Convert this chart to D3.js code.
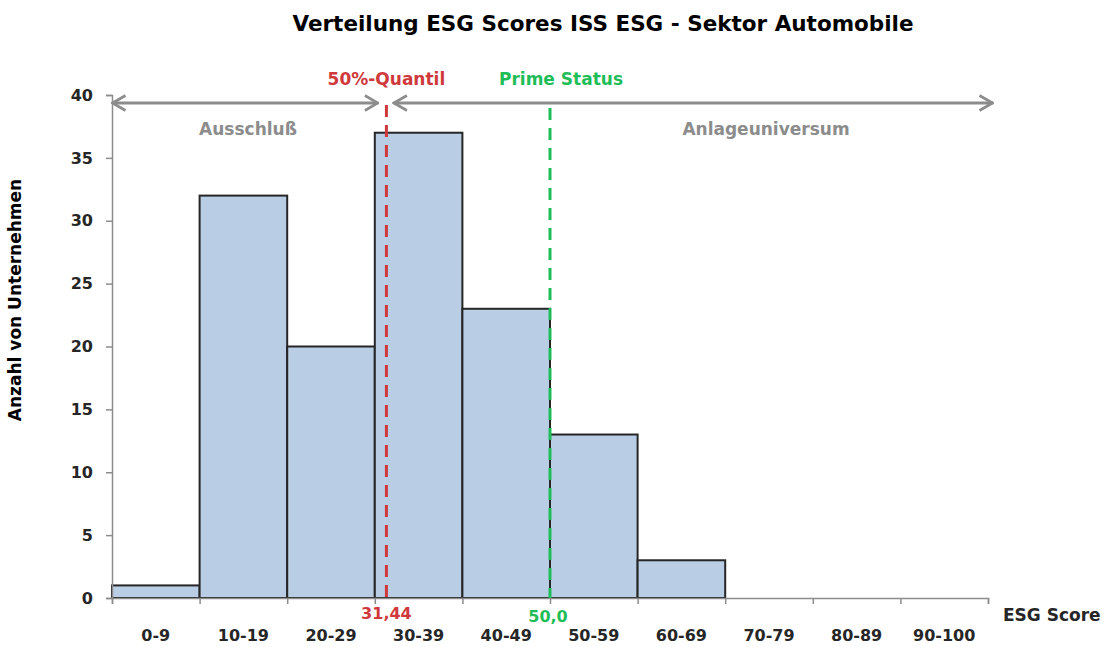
<!DOCTYPE html>
<html>
<head>
<meta charset="utf-8">
<script src="https://cdn.jsdelivr.net/npm/d3@7"></script>
<style>
  body { margin: 0; background: #fff; }
  text { font-family: "DejaVu Sans", Verdana, sans-serif; font-weight: bold; }
</style>
</head>
<body>
<div id="chart"></div>
<script>
const bins = ["0-9", "10-19", "20-29", "30-39", "40-49", "50-59", "60-69", "70-79", "80-89", "90-100"];
const counts = [1, 32, 20, 37, 23, 13, 3, 0, 0, 0];
const yTicks = [0, 5, 10, 15, 20, 25, 30, 35, 40];
const quantil = 31.44;
const prime = 50.0;

const width = 1116, height = 647;
const margin = {left: 112, right: 128, top: 95, bottom: 49};
const grey = "#8c8c8c", red = "#d0393b", green = "#1fbd58";

const svg = d3.select("#chart").append("svg")
  .attr("width", width)
  .attr("height", height);

const x = d3.scaleLinear().domain([0, 100]).range([margin.left, width - margin.right]);
const xb = d3.scaleBand().domain(bins).range([margin.left, width - margin.right]).padding(0);
const y = d3.scaleLinear().domain([0, 40]).range([height - margin.bottom, margin.top]);

// title
svg.append("text")
  .attr("x", 603).attr("y", 31)
  .attr("text-anchor", "middle")
  .attr("font-size", 21.5)
  .attr("fill", "#000")
  .text("Verteilung ESG Scores ISS ESG - Sektor Automobile");

// bars
svg.append("g").selectAll("rect")
  .data(counts.map((c, i) => ({bin: bins[i], c: c})).filter(d => d.c > 0))
  .enter().append("rect")
  .attr("x", d => xb(d.bin))
  .attr("y", d => y(d.c))
  .attr("width", xb.bandwidth())
  .attr("height", d => y(0) - y(d.c))
  .attr("fill", "#b9cde5")
  .attr("stroke", "#262626")
  .attr("stroke-width", 2);

// y axis
const yAxis = svg.append("g")
  .attr("transform", "translate(" + margin.left + ",0)")
  .call(d3.axisLeft(y).tickValues(yTicks).tickSize(6).tickPadding(13));
yAxis.select(".domain").attr("stroke", grey).attr("stroke-width", 1.5);
yAxis.selectAll(".tick line").attr("stroke", grey).attr("stroke-width", 1.5);
yAxis.selectAll("text").attr("font-size", 16).attr("fill", "#262626")
  .attr("font-family", "DejaVu Sans, Verdana, sans-serif").attr("font-weight", "bold");

// x axis line, ticks at bin edges
const xAxis = svg.append("g")
  .attr("transform", "translate(0," + y(0) + ")")
  .call(d3.axisBottom(x).tickValues(d3.range(0, 101, 10)).tickSize(6).tickFormat(""));
xAxis.select(".domain").attr("stroke", grey).attr("stroke-width", 1.5);
xAxis.selectAll(".tick line").attr("stroke", grey).attr("stroke-width", 1.5);

svg.append("g").selectAll("text")
  .data(bins)
  .enter().append("text")
  .attr("x", d => xb(d) + xb.bandwidth() / 2)
  .attr("y", 641)
  .attr("text-anchor", "middle")
  .attr("font-size", 16)
  .attr("fill", "#262626")
  .text(d => d);

svg.append("text")
  .attr("x", 1003).attr("y", 621)
  .attr("font-size", 17).attr("fill", "#262626")
  .text("ESG Score");

svg.append("text")
  .attr("transform", "translate(21,300) rotate(-90)")
  .attr("text-anchor", "middle")
  .attr("font-size", 17).attr("fill", "#000")
  .text("Anzahl von Unternehmen");

// marker lines
svg.append("line")
  .attr("x1", x(quantil) - 1).attr("x2", x(quantil) - 1)
  .attr("y1", 105).attr("y2", y(0))
  .attr("stroke", red).attr("stroke-width", 3)
  .attr("stroke-dasharray", "12,8");
svg.append("line")
  .attr("x1", x(prime)).attr("x2", x(prime))
  .attr("y1", 108).attr("y2", y(0))
  .attr("stroke", green).attr("stroke-width", 3)
  .attr("stroke-dasharray", "12,8");

svg.append("text")
  .attr("x", x(quantil) - 1).attr("y", 85)
  .attr("text-anchor", "middle").attr("font-size", 17).attr("fill", red)
  .text("50%-Quantil");
svg.append("text")
  .attr("x", x(prime) + 11).attr("y", 85)
  .attr("text-anchor", "middle").attr("font-size", 17).attr("fill", green)
  .text("Prime Status");
svg.append("text")
  .attr("x", x(quantil) - 1).attr("y", 619)
  .attr("text-anchor", "middle").attr("font-size", 16).attr("fill", red)
  .text("31,44");
svg.append("text")
  .attr("x", x(prime) - 2).attr("y", 622)
  .attr("text-anchor", "middle").attr("font-size", 16).attr("fill", green)
  .text("50,0");

// arrows
svg.append("defs").append("marker")
  .attr("id", "head")
  .attr("viewBox", "0 0 16 18")
  .attr("refX", 15).attr("refY", 9)
  .attr("markerWidth", 16).attr("markerHeight", 18)
  .attr("markerUnits", "userSpaceOnUse")
  .attr("orient", "auto-start-reverse")
  .append("path")
  .attr("d", "M1.5,1.5 L14.5,9 L1.5,16.5")
  .attr("fill", "none")
  .attr("stroke", grey)
  .attr("stroke-width", 2.6);

const ay = 103;
svg.append("line")
  .attr("x1", x(0)).attr("x2", x(quantil) - 9)
  .attr("y1", ay).attr("y2", ay)
  .attr("stroke", grey).attr("stroke-width", 3)
  .attr("marker-start", "url(#head)")
  .attr("marker-end", "url(#head)");
svg.append("line")
  .attr("x1", x(quantil) + 6).attr("x2", x(100) + 5)
  .attr("y1", ay).attr("y2", ay)
  .attr("stroke", grey).attr("stroke-width", 3)
  .attr("marker-start", "url(#head)")
  .attr("marker-end", "url(#head)");

svg.append("text")
  .attr("x", 248).attr("y", 135)
  .attr("text-anchor", "middle").attr("font-size", 17).attr("fill", grey)
  .text("Ausschluß");
svg.append("text")
  .attr("x", 766).attr("y", 135)
  .attr("text-anchor", "middle").attr("font-size", 17).attr("fill", grey)
  .text("Anlageuniversum");
</script>
</body>
</html>
